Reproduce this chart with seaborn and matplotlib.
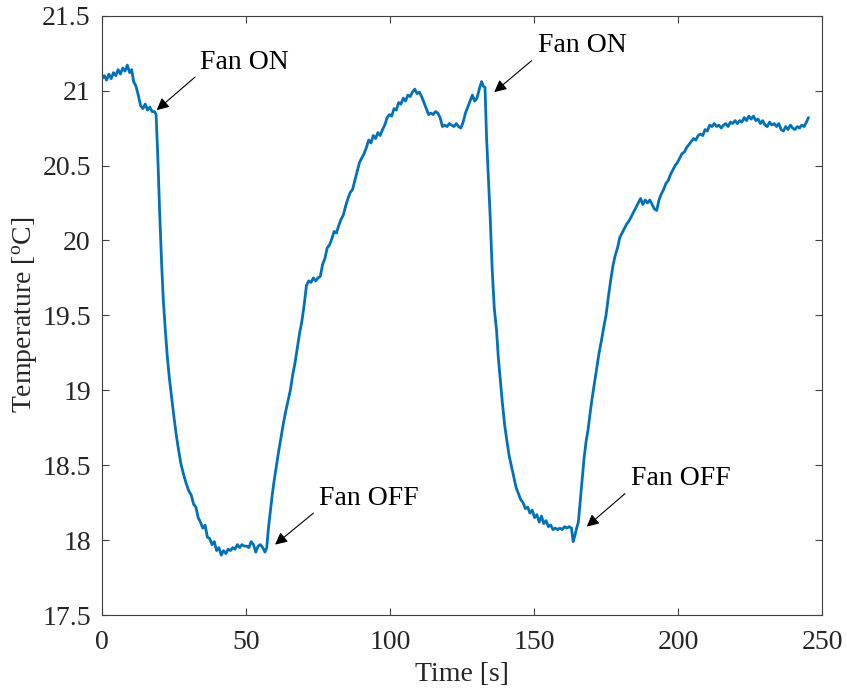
import matplotlib
matplotlib.use("Agg")
import matplotlib.pyplot as plt
import seaborn as sns
import pandas as pd

time_s = [0, 0.8, 1.6, 2.4, 3.2, 4, 4.8, 5.6, 6.4, 7.2, 8, 8.8, 9.6, 10.3, 11, 11.8, 12.6, 13.4, 14.2, 15, 15.8, 16.6, 17.4, 18.2, 18.8,
          19.4, 20.0, 20.7, 21.3, 22.0, 22.7, 23.4, 24.2, 25.0, 25.8, 26.6, 27.4, 28.3, 29.2, 30.1, 31, 31.8, 32.6, 33.4, 34.2, 35, 35.8, 36.6, 37.4, 38.2, 39, 39.8, 40.6, 41.4, 42.2, 43, 43.8, 44.6, 45.4, 46.2, 47, 47.8, 48.6, 49.4, 50.2, 51, 51.8, 52.6, 53.4, 54.2, 55, 55.8, 56.6, 57.2,
          57.8, 58.4, 59.1, 59.8, 60.6, 61.4, 62.2, 63, 63.8, 64.6, 65.4, 66.2, 67, 67.8, 68.6, 69.4, 70.2, 71, 71.8, 72.6, 73.4, 74.2, 75, 75.8, 76.6, 77.4, 78.2, 79, 79.8, 80.6, 81.4, 82.2, 83, 83.8, 84.6, 85.4, 86.2, 87, 87.8, 88.6, 89.4, 90.2, 91, 91.8, 92.6, 93.4, 94.2, 95, 95.8, 96.6, 97.4, 98.2, 99, 99.8, 100.6, 101.4, 102.2, 103, 103.8, 104.6, 105.4, 106.2, 107, 107.8, 108.6, 109.4, 110.2, 111, 111.8, 112.6, 113.4, 114.2, 115, 115.8, 116.6, 117.4, 118.2, 119, 119.8, 120.6, 121.4, 122.2, 123, 123.8, 124.6, 125.4, 126.2, 127, 127.8, 128.6, 129.4, 130.2, 131, 131.8, 132.4, 133,
          133.5, 134.2, 134.8, 135.5, 136.2, 137, 137.6, 138.2, 139, 139.8, 140.6, 141.4, 142.2, 143, 143.8, 144.6, 145.4, 146.2, 147, 147.8, 148.6, 149.4, 150.2, 151, 151.8, 152.6, 153.4, 154.2, 155, 155.8, 156.6, 157.4, 158.2, 159, 159.8, 160.6, 161.4, 162.2, 163, 163.6, 164.2, 164.8, 165.4,
          166, 166.7, 167.4, 168.1, 168.8, 169.5, 170.2, 171, 171.8, 172.6, 173.4, 174.2, 175, 175.8, 176.6, 177.4, 178.2, 179, 179.8, 180.6, 181.4, 182.2, 183, 183.8, 184.6, 185.4, 186.2, 187, 187.8, 188.6, 189.4, 190.2, 191, 191.8, 192.6, 193.4, 194.2, 195, 195.8, 196.6, 197.4, 198.2, 199, 199.8, 200.6, 201.4, 202.2, 203, 203.8, 204.6, 205.4, 206.2, 207, 207.8, 208.6, 209.4, 210.2, 211, 211.8, 212.6, 213.4, 214.2, 215, 215.8, 216.6, 217.4, 218.2, 219, 219.8, 220.6, 221.4, 222.2, 223, 223.8, 224.6, 225.4, 226.2, 227, 227.8, 228.6, 229.4, 230.2, 231, 231.8, 232.6, 233.4, 234.2, 235, 235.8, 236.6, 237.4, 238.2, 239, 239.8, 240.6, 241.4, 242.2, 243, 243.8, 244.6, 245.3]

temperature_c = [21.08, 21.10, 21.07, 21.11, 21.08, 21.12, 21.10, 21.14, 21.11, 21.15, 21.13, 21.17, 21.12, 21.14, 21.06, 21.03, 20.97, 20.90, 20.88, 20.91, 20.87, 20.89, 20.86, 20.86, 20.84,
                 20.55, 20.20, 19.85, 19.60, 19.40, 19.22, 19.08, 18.95, 18.82, 18.70, 18.60, 18.51, 18.44, 18.38, 18.33, 18.30, 18.24, 18.22, 18.15, 18.12, 18.08, 18.10, 18.02, 18.01, 17.97, 17.99, 17.93, 17.95, 17.90, 17.93, 17.91, 17.94, 17.93, 17.95, 17.94, 17.97, 17.95, 17.97, 17.96, 17.96, 17.95, 17.99, 17.97, 17.92, 17.96, 17.97, 17.95, 17.92, 17.95,
                 18.08, 18.18, 18.30, 18.40, 18.50, 18.60, 18.69, 18.78, 18.86, 18.93, 19.00, 19.10, 19.18, 19.28, 19.38, 19.46, 19.57, 19.70, 19.73, 19.72, 19.75, 19.73, 19.75, 19.76, 19.84, 19.88, 19.95, 19.97, 20.01, 20.06, 20.05, 20.10, 20.14, 20.17, 20.23, 20.28, 20.32, 20.34, 20.40, 20.46, 20.52, 20.55, 20.58, 20.62, 20.67, 20.65, 20.70, 20.68, 20.72, 20.70, 20.74, 20.77, 20.82, 20.84, 20.83, 20.88, 20.87, 20.92, 20.91, 20.95, 20.93, 20.97, 20.96, 20.99, 21.01, 20.98, 20.99, 20.96, 20.92, 20.88, 20.84, 20.85, 20.84, 20.86, 20.85, 20.82, 20.76, 20.77, 20.76, 20.78, 20.77, 20.76, 20.78, 20.76, 20.75, 20.79, 20.85, 20.89, 20.93, 20.97, 20.93, 20.95, 21.01, 21.06, 21.03, 21.02,
                 20.70, 20.40, 20.15, 19.80, 19.55, 19.40, 19.22, 19.09, 18.92, 18.77, 18.66, 18.56, 18.49, 18.42, 18.35, 18.31, 18.27, 18.25, 18.21, 18.22, 18.18, 18.20, 18.15, 18.17, 18.12, 18.16, 18.11, 18.13, 18.09, 18.10, 18.07, 18.08, 18.07, 18.08, 18.07, 18.09, 18.08, 18.09, 18.08, 17.99, 18.03, 18.08, 18.12,
                 18.25, 18.40, 18.55, 18.66, 18.74, 18.85, 18.95, 19.05, 19.15, 19.25, 19.33, 19.42, 19.50, 19.62, 19.73, 19.83, 19.90, 19.95, 20.02, 20.05, 20.08, 20.11, 20.13, 20.16, 20.19, 20.22, 20.25, 20.28, 20.24, 20.27, 20.25, 20.27, 20.24, 20.21, 20.20, 20.27, 20.31, 20.34, 20.38, 20.40, 20.44, 20.47, 20.50, 20.52, 20.55, 20.58, 20.59, 20.62, 20.64, 20.66, 20.68, 20.67, 20.70, 20.71, 20.70, 20.74, 20.73, 20.77, 20.76, 20.78, 20.76, 20.77, 20.75, 20.77, 20.78, 20.76, 20.79, 20.78, 20.80, 20.78, 20.80, 20.79, 20.82, 20.80, 20.83, 20.81, 20.83, 20.80, 20.81, 20.78, 20.80, 20.77, 20.76, 20.79, 20.77, 20.78, 20.76, 20.78, 20.74, 20.73, 20.76, 20.74, 20.77, 20.75, 20.74, 20.76, 20.75, 20.77, 20.76, 20.79, 20.82]

annot_labels = ["Fan ON", "Fan ON", "Fan OFF", "Fan OFF"]
annot_text_xy = [(34.0, 21.19), (151.4, 21.30), (75.5, 18.28), (183.7, 18.41)]
annot_tail_xy = [(32.3, 21.09), (149.2, 21.20), (73.4, 18.18), (181.6, 18.31)]
annot_tip_xy = [(19.0, 20.87), (136.2, 20.99), (60.1, 17.97), (168.3, 18.09)]

x_ticks = [0, 50, 100, 150, 200, 250]
y_ticks = [17.5, 18, 18.5, 19, 19.5, 20, 20.5, 21, 21.5]
y_ticklabels = ["17.5", "18", "18.5", "19", "19.5", "20", "20.5", "21", "21.5"]

sns.set_style("ticks")
plt.rcParams["font.family"] = ["Liberation Serif", "DejaVu Serif"]
plt.rcParams["mathtext.fontset"] = "custom"
plt.rcParams["mathtext.rm"] = "Liberation Serif"
plt.rcParams["mathtext.it"] = "Liberation Serif:italic"

df = pd.DataFrame({"Time": time_s, "Temperature": temperature_c})

fig = plt.figure(figsize=(8.47, 6.94), dpi=100)
ax = fig.add_axes([0.1204, 0.1138, 0.9705 - 0.1204, 0.9774 - 0.1138])

sns.lineplot(data=df, x="Time", y="Temperature", ax=ax, color="#0072BD",
             linewidth=2.0, estimator=None, sort=False)

ax.set_xlim(0, 250)
ax.set_ylim(17.5, 21.5)
ax.set_xticks(x_ticks)
ax.set_xticklabels([str(v) for v in x_ticks])
ax.set_yticks(y_ticks)
ax.set_yticklabels(y_ticklabels)

ax.tick_params(direction="in", length=5, width=0.8, top=True, right=True,
               labelsize=20, colors="#404040", labelcolor="#262626")
ax.tick_params(axis="x", pad=11)
ax.tick_params(axis="y", pad=8)
for s in ax.spines.values():
    s.set_visible(True)
    s.set_color("#404040")
    s.set_linewidth(0.8)

ax.set_xlabel("Time [s]", fontsize=20, color="#262626", labelpad=5)
ax.set_ylabel("Temperature [$^{\\mathrm{o}}$C]", fontsize=20, color="#262626", labelpad=2)

for lab, txy, tail, tip in zip(annot_labels, annot_text_xy, annot_tail_xy, annot_tip_xy):
    ax.annotate("", xy=tip, xytext=tail,
                arrowprops=dict(arrowstyle="-|>", color="black", lw=0.8,
                                mutation_scale=18, shrinkA=0, shrinkB=0))
    ax.text(txy[0], txy[1], lab, fontsize=20, ha="left", va="center", color="black")

ax.grid(False)
fig.savefig("out.png", dpi=100)
